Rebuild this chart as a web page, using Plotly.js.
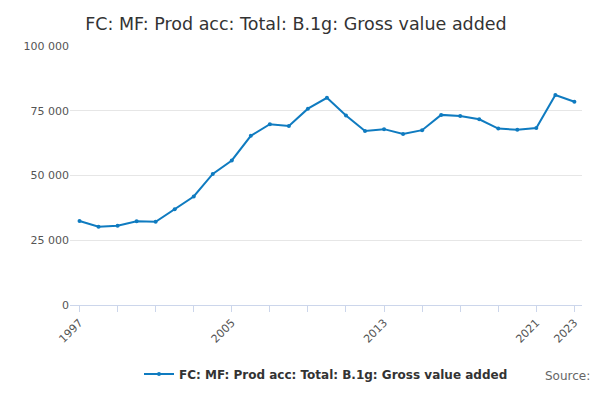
<!DOCTYPE html>
<html>
<head>
<script src="https://cdn.plot.ly/plotly-3.0.1.min.js"></script>
<style>body{margin:0}</style>
</head>
<body>
<div id="chart" style="width:600px;height:400px"></div>
<script>
var years = [1997,1998,1999,2000,2001,2002,2003,2004,2005,2006,2007,2008,2009,2010,2011,2012,2013,2014,2015,2016,2017,2018,2019,2020,2021,2022,2023]
var values = [32450,30200,30600,32300,32100,37000,41900,50600,55800,65300,69800,69100,75800,80000,73200,67200,67900,66000,67500,73400,73000,71700,68100,67700,68300,81100,78500]
var tickYears = [1997,2005,2013,2021,2023]
var seriesName = "FC: MF: Prod acc: Total: B.1g: Gross value added"

var data = [{
	x: years,
	y: values,
	type: 'scatter',
	mode: 'lines+markers',
	name: seriesName,
	line: {color: '#0f7bc0', width: 2},
	marker: {color: '#0f7bc0', size: 4}
}]

var layout = {
	width: 600,
	height: 400,
	separators: '. ',
	font: {family: 'DejaVu Sans, sans-serif', size: 11, color: '#555'},
	title: {text: seriesName, x: 0.142, xanchor: 'left', y: 0.955, font: {size: 17.5, color: '#333'}},
	margin: {l: 70, r: 18, t: 46, b: 85},
	showlegend: true,
	legend: {orientation: 'h', x: 0.5, xanchor: 'center', y: -0.21, font: {size: 12, color: '#333', weight: 'bold'}},
	xaxis: {
		range: [1996.5, 2023.4],
		tickvals: tickYears,
		ticktext: tickYears.map(String),
		tickangle: -45,
		ticks: 'outside',
		ticklen: 6,
		tickcolor: '#ccd6eb',
		showgrid: false,
		showline: true,
		linecolor: '#ccd6eb',
		minor: {dtick: 2, tick0: 1997, ticks: 'outside', ticklen: 6, tickcolor: '#ccd6eb'}
	},
	yaxis: {
		range: [0, 100000],
		dtick: 25000,
		tickformat: ',d',
		gridcolor: '#e6e6e6',
		zeroline: false,
		ticks: '',
		ticklen: 8,
		tickcolor: 'rgba(0,0,0,0)'
	},
	annotations: [{
		text: 'Source:', xref: 'paper', yref: 'paper', x: 1.02, y: -0.24,
		xanchor: 'right', yanchor: 'top', showarrow: false, font: {size: 12, color: '#666'}
	}]
}

Plotly.newPlot('chart', data, layout, {displayModeBar: false})
</script>
</body>
</html>
